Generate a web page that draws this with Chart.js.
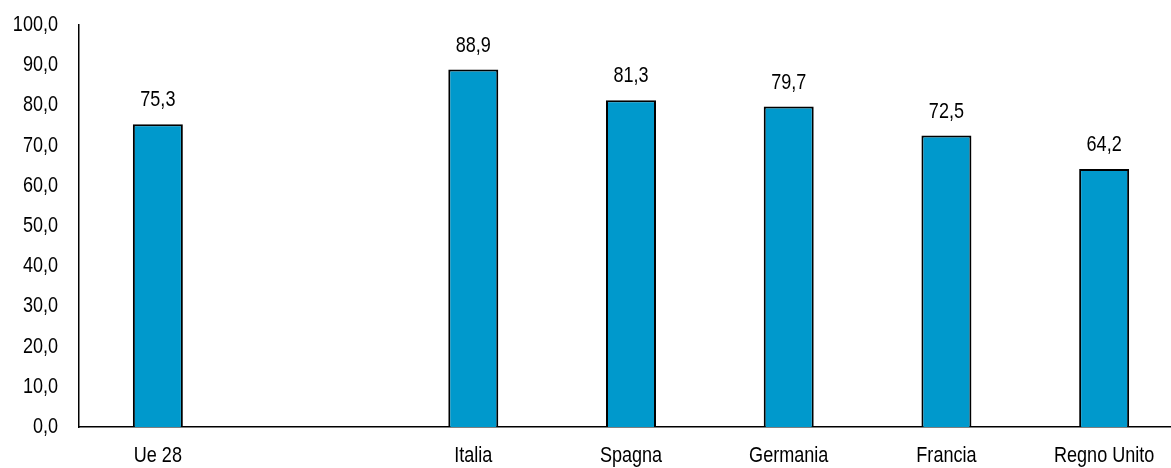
<!DOCTYPE html>
<html>
<head>
<meta charset="utf-8">
<script src="https://cdn.jsdelivr.net/npm/chart.js@4/dist/chart.umd.min.js"></script>
<style>
    html, body { margin: 0; padding: 0; background: #fff; overflow: hidden; }
    #wrap { width: 1184px; height: 468px; position: relative; }
</style>
</head>
<body>
<div id="wrap"><canvas id="chart"></canvas></div>
<script>
// Dati del grafico
const categorie = ['Ue 28', '', 'Italia', 'Spagna', 'Germania', 'Francia', 'Regno Unito'];
const valori = [75.3, null, 88.9, 81.3, 79.7, 72.5, 64.2];
const yMin = 0;
const yMax = 100;
const yStep = 10;

const FONT = '"Liberation Sans", Arial, sans-serif';
const NARROW = 0.82; // simula Arial Narrow

// Formatta con la virgola decimale
function formatta(v) {
    return v.toFixed(1).replace('.', ',');
}

// Scrive un testo compresso orizzontalmente
function testoStretto(ctx, testo, x, y, allinea) {
    ctx.save();
    ctx.translate(x, y);
    ctx.scale(NARROW, 1);
    ctx.textAlign = allinea;
    ctx.fillText(testo, 0, 0);
    ctx.restore();
}

// Etichette degli assi e valori sopra le barre
const testiPlugin = {
    id: 'testi',
    afterDraw(chart) {
        const ctx = chart.ctx;
        const sx = chart.scales.x;
        const sy = chart.scales.y;
        ctx.save();
        ctx.font = '22px ' + FONT;
        ctx.fillStyle = '#000';
        ctx.textBaseline = 'middle';

        sy.ticks.forEach(t => {
            testoStretto(ctx, formatta(t.value), sx.left - 21, sy.getPixelForValue(t.value), 'right');
        });
        categorie.forEach((c, i) => {
            if (!c) return;
            testoStretto(ctx, c, sx.getPixelForTick(i), sy.bottom + 29, 'center');
        });
        chart.getDatasetMeta(0).data.forEach((bar, i) => {
            const v = valori[i];
            if (v === null) return;
            testoStretto(ctx, formatta(v), bar.x, bar.y - 24, 'center');
        });
        ctx.restore();
    }
};

new Chart(document.getElementById('chart'), {
    type: 'bar',
    data: {
        labels: categorie,
        datasets: [{
            data: valori,
            backgroundColor: '#0099cc',
            borderColor: '#000',
            borderWidth: 2,
            categoryPercentage: 1,
            barPercentage: 0.317
        }]
    },
    options: {
        responsive: true,
        maintainAspectRatio: false,
        animation: false,
        layout: { padding: { top: 25, right: 1, left: 0, bottom: 0 } },
        plugins: {
            legend: { display: false },
            tooltip: { enabled: false }
        },
        scales: {
            x: {
                grid: { display: false, drawTicks: false },
                border: { display: true, color: '#000', width: 1.5 },
                ticks: {
                    color: 'rgba(0,0,0,0)',
                    font: { family: FONT, size: 22 },
                    padding: 0,
                    maxRotation: 0,
                    autoSkip: false
                },
                afterFit(scale) { scale.height = 41; }
            },
            y: {
                min: yMin,
                max: yMax,
                grid: { display: false, drawTicks: false },
                border: { display: true, color: '#000', width: 1.5 },
                ticks: {
                    stepSize: yStep,
                    color: 'rgba(0,0,0,0)',
                    font: { family: FONT, size: 22 },
                    padding: 0,
                    callback: v => formatta(v)
                },
                afterFit(scale) { scale.width = 79; }
            }
        }
    },
    plugins: [testiPlugin]
});
</script>
</body>
</html>
